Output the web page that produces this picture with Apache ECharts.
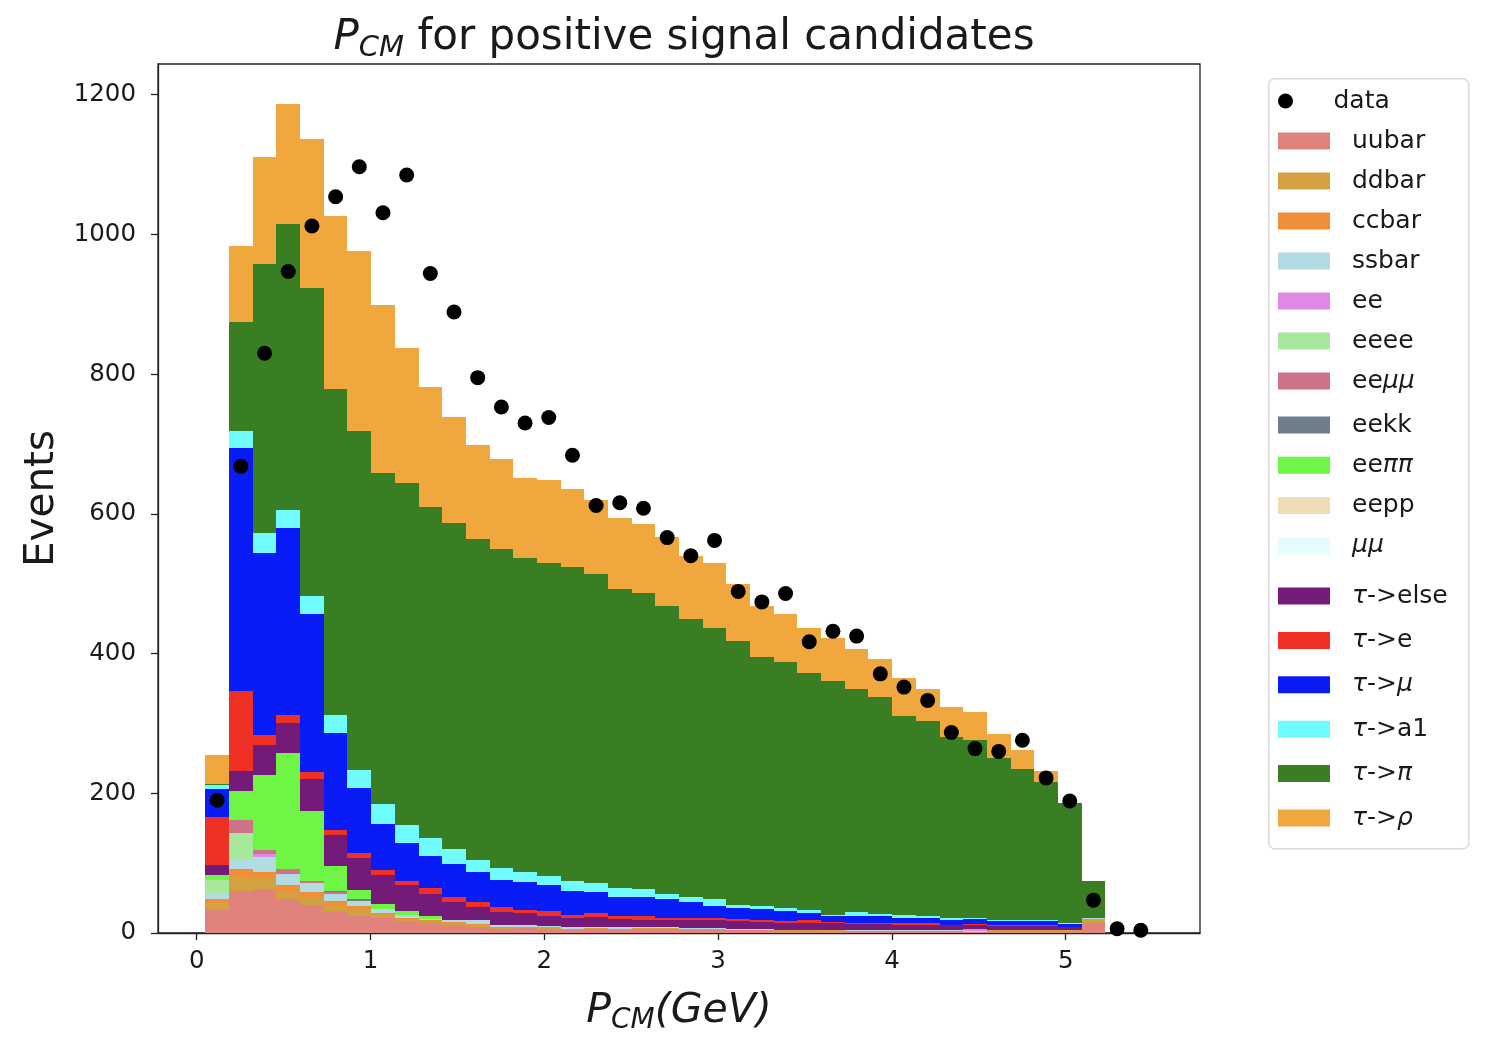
<!DOCTYPE html>
<html>
<head>
<meta charset="utf-8">
<script src="https://cdn.jsdelivr.net/npm/echarts@6/dist/echarts.min.js"></script>
<style>
  html, body { margin: 0; padding: 0; background: #ffffff; }
  #chart { width: 1502px; height: 1040px; }
</style>
</head>
<body>
<div id="chart"></div>
<script>
// Histogram binning: 40 bins from 0.05 to 5.5 GeV
const binEdges = [0.05, 0.18625, 0.3225, 0.45875, 0.595, 0.73125, 0.8675, 1.00375, 1.14, 1.27625,
  1.4125, 1.54875, 1.685, 1.82125, 1.9575, 2.09375, 2.23, 2.36625, 2.5025, 2.63875,
  2.775, 2.91125, 3.0475, 3.18375, 3.32, 3.45625, 3.5925, 3.72875, 3.865, 4.00125,
  4.1375, 4.27375, 4.41, 4.54625, 4.6825, 4.81875, 4.955, 5.09125, 5.2275, 5.36375, 5.5];

// Observed events per bin
const dataCounts = [190, 668, 830, 947, 1012, 1054, 1097, 1031, 1085, 944, 889, 795, 753, 730, 738, 684, 612, 616, 608, 566,
  540, 562, 489, 474, 486, 417, 432, 425, 371, 352, 333, 287, 264, 260, 276, 222, 189, 47, 6, 4];

// Simulated components per bin (stacked bottom to top in this order)
const uubar = [33, 60, 63, 48, 40, 31, 25, 22, 17, 14, 11, 9, 6, 7, 5, 5, 6, 5, 6, 6,
  5, 5, 4, 4, 3, 3, 2, 3, 3, 3, 3, 3, 2, 3, 3, 3, 3, 14, 0, 0];
const ddbar = [10, 20, 16, 12, 12, 7, 8, 4, 3, 2, 2, 2, 1, 1, 3, 1, 1, 1, 1, 1,
  1, 0, 1, 1, 1, 1, 2, 0, 0, 0, 0, 0, 0, 2, 2, 2, 2, 6, 0, 0];
const ccbar = [6, 11, 9, 9, 7, 8, 5, 3, 2, 2, 3, 2, 1, 1, 1, 0, 0, 0, 0, 0,
  0, 1, 0, 0, 0, 0, 0, 0, 0, 0, 0, 0, 0, 0, 0, 0, 0, 0, 0, 0];
const ssbar = [8, 14, 21, 15, 13, 10, 8, 5, 4, 2, 2, 5, 4, 3, 1, 3, 2, 3, 1, 1,
  1, 1, 1, 1, 1, 1, 0, 1, 1, 1, 1, 1, 1, 0, 0, 0, 0, 1, 0, 0];
const ee = [0, 0, 4, 0, 0, 0, 0, 0, 0, 0, 0, 0, 0, 0, 0, 0, 0, 0, 0, 0,
  0, 0, 0, 0, 0, 0, 0, 0, 0, 0, 0, 0, 3, 0, 0, 0, 0, 0, 0, 0];
const eeee = [19, 38, 0, 0, 0, 0, 0, 0, 0, 0, 0, 0, 0, 0, 0, 0, 0, 0, 0, 0,
  0, 0, 0, 0, 0, 0, 0, 0, 0, 0, 0, 0, 0, 0, 0, 0, 0, 0, 0, 0];
const eemumu = [0, 19, 6, 7, 3, 2, 0, 0, 0, 0, 0, 0, 0, 0, 0, 0, 0, 0, 0, 0,
  0, 0, 0, 0, 0, 0, 0, 0, 0, 0, 0, 0, 0, 0, 0, 0, 0, 0, 0, 0];
const eekk = [0, 0, 0, 0, 0, 2, 2, 0, 0, 0, 0, 0, 0, 0, 0, 0, 0, 0, 0, 0,
  0, 0, 0, 0, 0, 0, 0, 0, 0, 0, 0, 0, 0, 0, 0, 0, 0, 0, 0, 0];
const eepipi = [7, 41, 107, 167, 99, 36, 14, 7, 5, 5, 1, 0, 0, 0, 0, 0, 0, 0, 0, 0,
  0, 0, 0, 0, 0, 0, 0, 0, 0, 0, 0, 0, 0, 0, 0, 0, 0, 0, 0, 0];
const eepp = [0, 0, 0, 0, 0, 0, 0, 0, 0, 0, 0, 0, 0, 0, 0, 0, 0, 0, 0, 0,
  0, 0, 0, 0, 0, 0, 0, 0, 0, 0, 0, 0, 0, 0, 0, 0, 0, 0, 0, 0];
const mumu = [0, 0, 0, 0, 0, 0, 0, 0, 0, 0, 0, 0, 0, 0, 0, 0, 0, 0, 0, 0,
  0, 0, 0, 0, 0, 0, 0, 0, 0, 0, 0, 0, 0, 0, 0, 0, 0, 0, 0, 0];
const tauElse = [15, 29, 43, 43, 46, 44, 46, 42, 37, 31, 26, 19, 18, 17, 15, 12, 14, 11, 11, 11,
  12, 12, 11, 10, 10, 10, 10, 9, 9, 8, 8, 7, 6, 5, 5, 5, 4, 0, 0, 0];
const tauE = [68, 114, 14, 11, 11, 8, 7, 7, 7, 8, 7, 7, 7, 4, 7, 5, 6, 5, 6, 3,
  3, 3, 3, 3, 2, 3, 2, 2, 2, 2, 2, 1, 1, 1, 1, 1, 0, 0, 0, 0];
const tauMu = [40, 348, 261, 268, 226, 138, 93, 66, 54, 46, 47, 43, 39, 40, 37, 34, 30, 27, 26, 26,
  23, 17, 16, 15, 14, 11, 9, 10, 9, 8, 8, 7, 7, 6, 6, 6, 4, 0, 0, 0];
const tauA1 = [6, 24, 29, 26, 26, 26, 25, 29, 26, 26, 21, 18, 17, 14, 13, 15, 12, 12, 12, 8,
  7, 10, 4, 4, 5, 4, 1, 5, 3, 4, 3, 3, 2, 1, 1, 1, 1, 0, 0, 0];
const tauPi = [2, 156, 385, 409, 440, 467, 485, 473, 489, 474, 467, 459, 456, 450, 447, 449, 443, 429, 424, 412,
  398, 388, 378, 357, 352, 339, 335, 320, 311, 285, 279, 259, 255, 232, 217, 198, 172, 54, 0, 0];
const tauRho = [41, 110, 153, 172, 213, 247, 259, 241, 194, 171, 152, 134, 129, 114, 119, 112, 106, 101, 99, 99,
  90, 92, 81, 73, 68, 65, 62, 57, 54, 54, 46, 42, 39, 35, 27, 16, 0, 0, 0, 0];

// Axis tick labels
const xTicks = [0, 1, 2, 3, 4, 5];
const yTicks = [0, 200, 400, 600, 800, 1000, 1200];

const components = [
  { name: 'uubar', values: uubar, color: '#e0837d' },
  { name: 'ddbar', values: ddbar, color: '#d4a140' },
  { name: 'ccbar', values: ccbar, color: '#ef8f38' },
  { name: 'ssbar', values: ssbar, color: '#b2dce2' },
  { name: 'ee', values: ee, color: '#e088e6' },
  { name: 'eeee', values: eeee, color: '#a6e89c' },
  { name: 'eeμμ', values: eemumu, color: '#cd7389' },
  { name: 'eekk', values: eekk, color: '#6f7d8c' },
  { name: 'eeππ', values: eepipi, color: '#6ef546' },
  { name: 'eepp', values: eepp, color: '#f0ddb5' },
  { name: 'μμ', values: mumu, color: '#e3fdfd' },
  { name: 'τ->else', values: tauElse, color: '#741a78' },
  { name: 'τ->e', values: tauE, color: '#ee3124' },
  { name: 'τ->μ', values: tauMu, color: '#0a1cf5' },
  { name: 'τ->a1', values: tauA1, color: '#70fbff' },
  { name: 'τ->π', values: tauPi, color: '#3a7e23' },
  { name: 'τ->ρ', values: tauRho, color: '#f0a73d' }
];

const FONT = 'DejaVu Sans';
const TEXT = '#1a1a1a';

// Stacked rectangles: [xLow, xHigh, yBase, yTop]
const base = binEdges.slice(1).map(() => 0);
const barSeries = components.map(c => {
  const rows = [];
  c.values.forEach((v, i) => {
    if (v > 0) rows.push([binEdges[i], binEdges[i + 1], base[i], base[i] + v]);
    base[i] += v;
  });
  return {
    type: 'custom',
    name: c.name,
    itemStyle: { color: c.color },
    encode: { x: [0, 1], y: [2, 3] },
    data: rows,
    silent: true,
    renderItem: function (params, api) {
      const a = api.coord([api.value(0), api.value(3)]);
      const b = api.coord([api.value(1), api.value(2)]);
      const x0 = Math.round(a[0]), y0 = Math.round(a[1]);
      const x1 = Math.round(b[0]), y1 = Math.round(b[1]);
      return {
        type: 'rect',
        shape: { x: x0, y: y0, width: x1 - x0, height: y1 - y0 },
        style: { fill: api.visual('color') }
      };
    }
  };
});

const binCenters = dataCounts.map((_, i) => (binEdges[i] + binEdges[i + 1]) / 2);
const dataSeries = {
  type: 'scatter',
  name: 'data',
  symbol: 'circle',
  symbolSize: 15,
  itemStyle: { color: '#000000', opacity: 1 },
  z: 5,
  silent: true,
  data: dataCounts.map((v, i) => [binCenters[i], v])
};

const legendText = {
  fontFamily: FONT, fontSize: 25, color: TEXT, lineHeight: 30,
  padding: [0, 0, 0, 17],
  rich: { g: { fontFamily: FONT, fontStyle: 'italic', fontSize: 25, color: TEXT, lineHeight: 30 } }
};
const legendFmt = name => name.replace(/([μπτρ]+)/g, '{g|$1}');
function makeLegend(names, top, gap, icon, h) {
  return {
    orient: 'vertical', left: 1278, top: top, itemGap: gap,
    itemWidth: 52, itemHeight: h, selectedMode: false,
    padding: 0,
    data: names.map(n => ({ name: n, icon: icon, itemStyle: { opacity: 1 } })),
    formatter: legendFmt,
    textStyle: legendText
  };
}
const names = components.map(c => c.name);

const option = {
  backgroundColor: '#ffffff',
  animation: false,
  title: {
    text: '{i|P}{s|CM}{r| for positive signal candidates}',
    left: 679, top: 8, textAlign: 'center',
    textStyle: {
      fontWeight: 'normal',
      rich: {
        i: { fontFamily: FONT, fontStyle: 'italic', fontWeight: 'normal', fontSize: 42, lineHeight: 50, color: TEXT },
        s: { fontFamily: FONT, fontStyle: 'italic', fontWeight: 'normal', fontSize: 29, lineHeight: 22, verticalAlign: 'bottom', color: TEXT },
        r: { fontFamily: FONT, fontWeight: 'normal', fontSize: 42, lineHeight: 50, color: TEXT }
      }
    }
  },
  graphic: [{
    type: 'rect', left: 1268, top: 78, z: 0,
    shape: { width: 200, height: 770, r: 6 },
    style: { fill: '#ffffff', stroke: '#d9d9d9', lineWidth: 1.5 }
  }],
  legend: [
    makeLegend(['data'], 86, 10, 'circle', 15),
    makeLegend(names.slice(0, 7), 126, 10, 'rect', 17),
    makeLegend(names.slice(7, 11), 410, 10.3, 'rect', 17),
    makeLegend(names.slice(11), 581, 14.4, 'rect', 17)
  ],
  grid: {
    left: 158, top: 64, width: 1042, height: 871,
    show: true, borderColor: '#222222', borderWidth: 1.3, backgroundColor: 'transparent'
  },
  xAxis: {
    type: 'value', min: -0.2225, max: 5.7725,
    name: '{i|P}{s|CM}{i|(GeV)}',
    nameLocation: 'middle', nameGap: 54,
    nameTextStyle: {
      rich: {
        i: { fontFamily: FONT, fontStyle: 'italic', fontSize: 41, lineHeight: 48, color: TEXT },
        s: { fontFamily: FONT, fontStyle: 'italic', fontSize: 28, lineHeight: 20, verticalAlign: 'bottom', color: TEXT }
      }
    },
    axisLine: { show: true, onZero: false, lineStyle: { color: '#222222', width: 1.3 } },
    axisTick: { show: true, length: 7, lineStyle: { color: '#222222', width: 1.3 }, customValues: xTicks },
    axisLabel: { fontFamily: FONT, fontSize: 24.5, color: TEXT, margin: 16, customValues: xTicks },
    splitLine: { show: false }
  },
  yAxis: {
    type: 'value', min: 0, max: 1244,
    name: 'Events', nameLocation: 'middle', nameRotate: 90, nameGap: 91,
    nameTextStyle: { fontFamily: FONT, fontSize: 40.5, color: TEXT },
    axisLine: { show: true, onZero: false, lineStyle: { color: '#222222', width: 1.3 } },
    axisTick: { show: true, length: 7, lineStyle: { color: '#222222', width: 1.3 }, customValues: yTicks },
    axisLabel: {
      fontFamily: FONT, fontSize: 24.5, color: TEXT, margin: 22, customValues: yTicks,
      formatter: v => String(v)
    },
    splitLine: { show: false }
  },
  series: barSeries.concat([dataSeries])
};

const chart = echarts.init(document.getElementById('chart'), null, { renderer: 'canvas', width: 1502, height: 1040 });
chart.setOption(option);
</script>
</body>
</html>
